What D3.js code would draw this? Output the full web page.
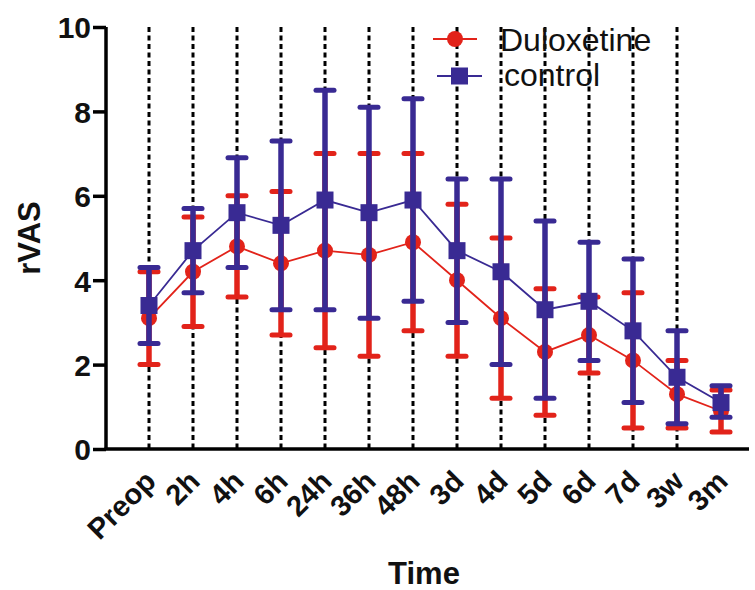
<!DOCTYPE html>
<html lang="en">
<head>
    <meta charset="utf-8" />
    <script src="https://d3js.org/d3.v7.min.js"></script>
    <title>rVAS</title>
    <style>
        body { margin: 0; background: #fff; }
        * { font-family: 'Liberation Sans', Arial, sans-serif; }
    </style>
</head>
<body>
    <div id="chart"></div>
    <script>
        // time points
        var categories = ["Preop", "2h", "4h", "6h", "24h", "36h", "48h", "3d", "4d", "5d", "6d", "7d", "3w", "3m"];

        // Duloxetine group: mean, lower, upper
        var duloxMean = [3.1, 4.2, 4.8, 4.4, 4.7, 4.6, 4.9, 4.0, 3.1, 2.3, 2.7, 2.1, 1.3, 0.9];
        var duloxLow  = [2.0, 2.9, 3.6, 2.7, 2.4, 2.2, 2.8, 2.2, 1.2, 0.8, 1.8, 0.5, 0.5, 0.4];
        var duloxHigh = [4.2, 5.5, 6.0, 6.1, 7.0, 7.0, 7.0, 5.8, 5.0, 3.8, 3.6, 3.7, 2.1, 1.4];

        // control group
        var ctrlMean = [3.4, 4.7, 5.6, 5.3, 5.9, 5.6, 5.9, 4.7, 4.2, 3.3, 3.5, 2.8, 1.7, 1.1];
        var ctrlLow  = [2.5, 3.7, 4.3, 3.3, 3.3, 3.1, 3.5, 3.0, 2.0, 1.2, 2.1, 1.1, 0.6, 0.75];
        var ctrlHigh = [4.3, 5.7, 6.9, 7.3, 8.5, 8.1, 8.3, 6.4, 6.4, 5.4, 4.9, 4.5, 2.8, 1.5];

        var yTicks = [0, 2, 4, 6, 8, 10];

        var red = "#e2231a";
        var blue = "#392a93";

        var width = 755, height = 590;
        var svg = d3.select("#chart").append("svg")
            .attr("width", width)
            .attr("height", height);

        var x = d3.scalePoint().domain(categories).range([149, 721]);
        var y = d3.scaleLinear().domain([0, 10]).range([449, 27]);

        // dotted guide lines (none at the last time point)
        svg.selectAll("line.guide")
            .data(categories.slice(0, categories.length - 1))
            .enter().append("line")
            .attr("class", "guide")
            .attr("x1", function(d) { return x(d); })
            .attr("x2", function(d) { return x(d); })
            .attr("y1", y(10))
            .attr("y2", y(0))
            .attr("stroke", "#000")
            .attr("stroke-width", 3)
            .attr("stroke-dasharray", "5,3.5");

        // y axis
        var yAxis = svg.append("g")
            .attr("transform", "translate(106,0)")
            .call(d3.axisLeft(y).tickValues(yTicks).tickSize(13).tickPadding(2));
        yAxis.select(".domain").attr("stroke-width", 3.5).attr("d", "M0," + y(10) + "V" + y(0));
        yAxis.selectAll(".tick line").attr("stroke-width", 3.5);
        yAxis.selectAll(".tick text")
            .attr("font-size", 30)
            .attr("font-weight", "bold")
            .attr("fill", "#111")
            .attr("dy", "0.36em");

        // x axis
        var xAxis = svg.append("g")
            .attr("transform", "translate(0," + y(0) + ")")
            .call(d3.axisBottom(x).tickSize(0).tickPadding(0));
        xAxis.select(".domain").attr("stroke-width", 3.5).attr("d", "M104.5,0H749");
        xAxis.selectAll(".tick text")
            .attr("font-size", 29)
            .attr("font-weight", "bold")
            .attr("fill", "#111")
            .attr("text-anchor", "end")
            .attr("dy", 0)
            .attr("y", 0)
            .attr("transform", "translate(8,34) rotate(-45)");

        // axis titles
        svg.append("text")
            .attr("x", 424)
            .attr("y", 584)
            .attr("text-anchor", "middle")
            .attr("font-size", 31)
            .attr("font-weight", "bold")
            .attr("fill", "#111")
            .text("Time");

        svg.append("text")
            .attr("transform", "translate(40," + ((y(0) + y(10)) / 2) + ") rotate(-90)")
            .attr("text-anchor", "middle")
            .attr("font-size", 31)
            .attr("font-weight", "bold")
            .attr("fill", "#111")
            .text("rVAS");

        function drawSeries(mean, low, high, color, shape) {
            var g = svg.append("g");
            var idx = d3.range(categories.length);

            g.selectAll("line.bar").data(idx).enter().append("line")
                .attr("x1", function(i) { return x(categories[i]); })
                .attr("x2", function(i) { return x(categories[i]); })
                .attr("y1", function(i) { return y(low[i]); })
                .attr("y2", function(i) { return y(high[i]); })
                .attr("stroke", color)
                .attr("stroke-width", 5.5);

            var caps = [];
            idx.forEach(function(i) { caps.push([i, low[i]]); caps.push([i, high[i]]); });
            g.selectAll("line.cap").data(caps).enter().append("line")
                .attr("x1", function(d) { return x(categories[d[0]]) - 9; })
                .attr("x2", function(d) { return x(categories[d[0]]) + 9; })
                .attr("y1", function(d) { return y(d[1]); })
                .attr("y2", function(d) { return y(d[1]); })
                .attr("stroke", color)
                .attr("stroke-width", 5)
                .attr("stroke-linecap", "round");

            var line = d3.line()
                .x(function(i) { return x(categories[i]); })
                .y(function(i) { return y(mean[i]); });
            g.append("path")
                .datum(idx)
                .attr("d", line)
                .attr("fill", "none")
                .attr("stroke", color)
                .attr("stroke-width", 1.8);

            if (shape === "circle") {
                g.selectAll("circle").data(idx).enter().append("circle")
                    .attr("cx", function(i) { return x(categories[i]); })
                    .attr("cy", function(i) { return y(mean[i]); })
                    .attr("r", 8)
                    .attr("fill", color);
            } else {
                g.selectAll("rect").data(idx).enter().append("rect")
                    .attr("x", function(i) { return x(categories[i]) - 8.5; })
                    .attr("y", function(i) { return y(mean[i]) - 8.5; })
                    .attr("width", 17)
                    .attr("height", 17)
                    .attr("fill", color);
            }
        }

        drawSeries(duloxMean, duloxLow, duloxHigh, red, "circle");
        drawSeries(ctrlMean, ctrlLow, ctrlHigh, blue, "square");

        // legend
        var legend = svg.append("g");
        var items = [
            { label: "Duloxetine", color: red, shape: "circle", x1: 433, x2: 477, y: 39, tx: 500, ty: 51 },
            { label: "control", color: blue, shape: "square", x1: 437, x2: 482, y: 76, tx: 504, ty: 86 }
        ];
        items.forEach(function(d) {
            legend.append("line")
                .attr("x1", d.x1).attr("x2", d.x2)
                .attr("y1", d.y).attr("y2", d.y)
                .attr("stroke", d.color)
                .attr("stroke-width", 1.8);
            var cx = (d.x1 + d.x2) / 2;
            if (d.shape === "circle") {
                legend.append("circle").attr("cx", cx).attr("cy", d.y).attr("r", 8).attr("fill", d.color);
            } else {
                legend.append("rect").attr("x", cx - 8.5).attr("y", d.y - 8.5)
                    .attr("width", 17).attr("height", 17).attr("fill", d.color);
            }
            legend.append("text")
                .attr("x", d.tx)
                .attr("y", d.ty)
                .attr("font-size", 32)
                .attr("fill", "#111")
                .text(d.label);
        });
    </script>
</body>
</html>
